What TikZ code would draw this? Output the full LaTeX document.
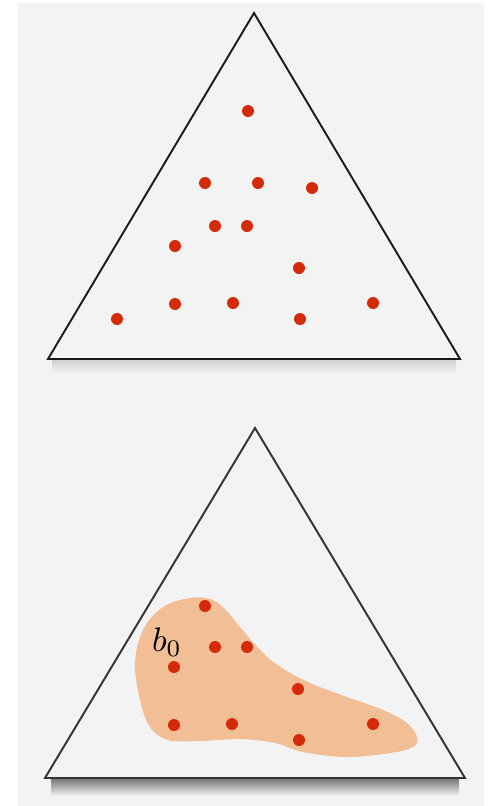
\documentclass[tikz,border=0pt]{standalone}
\usetikzlibrary{calc}
\definecolor{panel}{HTML}{F3F3F3}
\definecolor{pt}{HTML}{D42A0A}
\definecolor{blob}{HTML}{F2BE95}
\begin{document}
\begin{tikzpicture}[x=1pt, y=-1pt, line join=miter,
    simplex/.style={line width=1.9pt, black!90},
    dot/.style={fill=pt},
    every node/.style={inner sep=0pt}]
    % 1. 背景面板
    \useasboundingbox (0,0) rectangle (490,806);
    \fill[white] (0,0) rectangle (490,806);
    \fill[panel] (18,3) rectangle (484,806);

    % 2. 上方单纯形 (柔和阴影 + 边框)
    \coordinate (A1) at (254,13);
    \coordinate (B1) at (48,359);
    \coordinate (C1) at (460,359);
    \shade[top color=black!20, bottom color=panel] ($(B1)+(4,0)$) rectangle ($(C1)+(-4,14)$);
    \draw[simplex] (A1) -- (B1) -- (C1) -- cycle;

    % 3. 上方采样点
    \foreach \px/\py in {248/111, 205/183, 258/183, 312/188, 215/226, 247/226,
                         175/246, 299/268, 175/304, 233/303, 373/303, 117/319, 300/319}
      \fill[dot] (\px,\py) circle (6);

    % 4. 下方单纯形 (阴影更重)
    \coordinate (A2) at (255,428);
    \coordinate (B2) at (45,778);
    \coordinate (C2) at (465,778);
    \shade[top color=black!55, bottom color=panel] ($(B2)+(6,0)$) rectangle ($(C2)+(-6,18)$);
    \draw[simplex, black!80] (A2) -- (B2) -- (C2) -- cycle;

    % 5. 区域 b0
    \fill[blob] plot[smooth cycle, tension=0.6] coordinates {
      (190,598) (210,599) (225,609) (240,627) (263,653) (282,668)
      (310,683) (347,697) (383,710) (407,723) (417,737) (413,747) (390,753)
      (347,757) (303,752) (275,743) (240,739) (200,741) (168,740) (150,727)
      (140,700) (135,663) (143,630) (163,607)};
    \node[scale=3.4] (b0) at (167,642) {$b_0$};

    % 6. 下方采样点
    \foreach \px/\py in {205/606, 215/647, 247/647, 174/667, 298/689,
                         174/725, 232/724, 373/724, 299/740}
      \fill[dot] (\px,\py) circle (6);
\end{tikzpicture}
\end{document}
